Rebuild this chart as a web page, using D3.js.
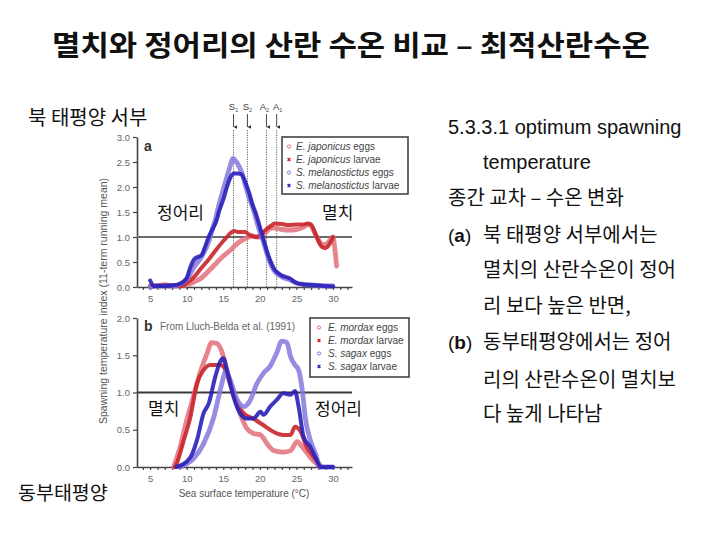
<!DOCTYPE html>
<html>
<head>
<meta charset="utf-8">
<script src="https://cdn.jsdelivr.net/npm/d3@7"></script>
<style>
  body { margin: 0; background: #fff; }
  svg { display: block; }
</style>
</head>
<body>
<div id="content"></div>
<script>
// Panel a: NW Pacific (E. japonicus / S. melanostictus), [temperature, index]
const aAnchovyEggs = [[5,0.01],[6,0.02],[7,0.03],[8,0.02],[9,0.02],[10,0.04],[11,0.1],[12,0.18],[13,0.32],[14,0.47],[15,0.62],[16,0.74],[17,0.88],[18,0.97],[18.5,1.0],[19,1.02],[19.5,1.0],[20,1.0],[20.5,1.05],[21,1.12],[21.5,1.18],[22,1.18],[23,1.15],[24,1.14],[25,1.15],[26,1.2],[26.5,1.25],[27,1.22],[27.5,1.08],[28,0.95],[28.5,0.85],[29,0.85],[29.5,0.92],[30,1.0],[30.3,0.7],[30.5,0.42]];
const aAnchovyLarvae = [[5,0.02],[6,0.03],[7,0.05],[8,0.03],[9,0.02],[9.5,0.03],[10,0.08],[11,0.2],[12,0.38],[13,0.55],[14,0.74],[15,0.92],[15.5,1.0],[16,1.08],[16.5,1.12],[17,1.1],[17.5,1.1],[18,1.1],[18.5,1.05],[19,1.02],[19.5,1.0],[20,1.03],[20.5,1.1],[21,1.17],[21.5,1.22],[22,1.27],[23,1.26],[24,1.24],[25,1.25],[26,1.25],[26.5,1.27],[27,1.25],[27.5,1.1],[28,0.92],[28.5,0.8],[29,0.78],[29.5,0.85],[30,1.0]];
const aSardineEggs = [[5,0.0],[6,0.02],[7,0.02],[8,0.02],[9,0.05],[10,0.15],[11,0.4],[12,0.6],[13,0.9],[13.5,1.15],[14,1.4],[14.5,1.7],[15,1.95],[15.5,2.2],[16,2.45],[16.3,2.57],[16.8,2.5],[17.5,2.3],[18,2.05],[18.5,1.8],[19,1.6],[19.5,1.35],[20,1.1],[20.5,0.9],[21,0.65],[21.5,0.45],[22,0.32],[22.5,0.25],[23,0.2],[24,0.15],[25,0.08],[26,0.05],[27,0.04],[28,0.03],[29,0.02],[30,0.02]];
const aSardineLarvae = [[5,0.13],[5.5,0.02],[6,0.02],[7,0.02],[8,0.03],[9,0.06],[10,0.18],[10.5,0.4],[11,0.55],[11.5,0.6],[12,0.63],[12.5,0.8],[13,1.0],[13.5,1.15],[14,1.3],[14.5,1.55],[15,1.75],[15.5,2.0],[16,2.2],[16.5,2.27],[17,2.27],[17.5,2.25],[18,2.1],[18.5,1.9],[19,1.65],[19.5,1.45],[20,1.2],[20.5,0.95],[21,0.7],[21.5,0.5],[22,0.35],[22.5,0.28],[23,0.23],[24,0.18],[25,0.08],[26,0.05],[27,0.04],[28,0.03],[29,0.02],[30,0.01]];

// Panel b: California Current (E. mordax / S. sagax)
const bAnchovyEggs = [[8.2,0],[9.1,0.27],[10,0.63],[10.9,0.94],[11.8,1.26],[12.8,1.53],[13.4,1.67],[14.1,1.66],[14.8,1.55],[15.5,1.3],[16.4,1.01],[17.3,0.72],[18.2,0.52],[19.1,0.45],[20.1,0.43],[21,0.31],[21.9,0.22],[23.2,0.2],[24.2,0.22],[25.1,0.34],[25.8,0.27],[26.9,0.13],[27.8,0.04],[28.3,0]];
const bAnchovyLarvae = [[8.4,0],[8.6,0.04],[9.6,0.36],[10.5,0.67],[11.4,1.12],[12.3,1.3],[13.2,1.37],[14.6,1.37],[15.3,1.3],[15.9,1.12],[16.9,0.85],[17.8,0.72],[19.1,0.65],[20.5,0.56],[21.9,0.47],[23.2,0.43],[24.2,0.43],[24.8,0.54],[25.5,0.49],[26.4,0.27],[27.4,0.13],[28.3,0.02]];
const bSardineEggs = [[9.1,0],[10.9,0.11],[12.3,0.31],[13.7,0.67],[14.8,1.12],[15.3,1.28],[15.9,1.17],[16.9,0.9],[17.8,0.81],[18.7,0.9],[19.6,1.12],[20.5,1.26],[21.4,1.35],[22.3,1.53],[23,1.69],[23.7,1.67],[24.2,1.48],[24.8,1.37],[25.3,1.3],[25.8,1.03],[26.2,0.67],[26.9,0.36],[27.6,0.18],[28.3,0],[30,0]];
const bSardineLarvae = [[8.6,0],[10.5,0.13],[11.4,0.36],[12.3,0.72],[13,0.85],[13.9,1.21],[14.6,1.42],[15,1.46],[15.5,1.3],[16.4,0.94],[17.3,0.72],[18.2,0.65],[19.1,0.65],[20.1,0.74],[20.5,0.7],[21.4,0.81],[22.3,0.9],[23.2,0.99],[24.2,0.97],[24.8,1.02],[25.3,0.81],[26,0.4],[26.9,0.27],[27.6,0.13],[28.3,0],[30,0]];

const xTickLabels = [5, 10, 15, 20, 25, 30];
const yTicksA = [0, 0.5, 1.0, 1.5, 2.0, 2.5, 3.0];
const yTicksB = [0, 0.5, 1.0, 1.5, 2.0];
const markerTemps = [16.4, 18.3, 20.9, 22.3];
const markerNames = [["S","1"], ["S","2"], ["A","2"], ["A","1"]];
const legendA = [["E. japonicus", " eggs"], ["E. japonicus", " larvae"], ["S. melanostictus", " eggs"], ["S. melanostictus", " larvae"]];
const legendB = [["E. mordax", " eggs"], ["E. mordax", " larvae"], ["S. sagax", " eggs"], ["S. sagax", " larvae"]];

const sideText = [
  {x: 448, y: 134, t: "5.3.3.1 optimum spawning", f: "Arial"},
  {x: 483, y: 169, t: "temperature", f: "Arial"},
  {x: 448, y: 205, t: "종간 교차 – 수온 변화"},
  {x: 448, y: 242, t: "북 태평양 서부에서는", tag: "a"},
  {x: 483, y: 277, t: "멸치의 산란수온이 정어"},
  {x: 483, y: 313, t: "리 보다 높은 반면,"},
  {x: 448, y: 349, t: "동부태평양에서는 정어", tag: "b"},
  {x: 483, y: 387, t: "리의 산란수온이 멸치보"},
  {x: 483, y: 421, t: "다 높게 나타남"}
];

const kr = "'Noto Sans CJK KR', 'Noto Sans', sans-serif";
const sans = "'Liberation Sans', Arial, sans-serif";

const svg = d3.select("#content").append("svg")
  .attr("width", 720).attr("height", 540);

svg.append("defs").append("marker")
  .attr("id", "arr").attr("viewBox", "0 0 6 6")
  .attr("refX", 3).attr("refY", 6)
  .attr("markerWidth", 4).attr("markerHeight", 4)
  .attr("orient", "auto-start-reverse")
  .append("path").attr("d", "M0,0 L3,6 L6,0 Z").attr("fill", "#333");

// title
svg.append("text")
  .attr("x", 52).attr("y", 56)
  .attr("textLength", 598).attr("lengthAdjust", "spacingAndGlyphs")
  .attr("font-family", kr).attr("font-weight", 700)
  .attr("font-size", 28).attr("fill", "#111")
  .text("멸치와 정어리의 산란 수온 비교 – 최적산란수온");

let x = d3.scaleLinear().domain([3.2, 32.6]).range([137, 352]);
let yA = d3.scaleLinear().domain([0, 3]).range([287, 137]);
let yB = d3.scaleLinear().domain([0, 2]).range([467, 318]);

const red = "#c8252b", redLight = "#e2707a";
const blue = "#2a20b8", blueLight = "#8478dc";

function axes(y, ticks, y0, refColor) {
  let gy = svg.append("g")
    .attr("transform", "translate(137,0)")
    .call(d3.axisLeft(y).tickValues(ticks).tickFormat(d3.format(".1f")).tickSize(4).tickSizeOuter(0));
  let gx = svg.append("g")
    .attr("transform", "translate(0," + y0 + ")")
    .call(d3.axisBottom(x).tickValues(d3.range(4, 33)).tickSize(3).tickSizeOuter(0)
      .tickFormat(d => xTickLabels.includes(d) ? d : ""));
  [gy, gx].forEach(g => {
    g.select(".domain").attr("stroke", "#444").attr("stroke-width", 1.6);
    g.selectAll(".tick line").attr("stroke", "#444").attr("stroke-width", 1.2);
    g.selectAll("text").attr("fill", "#666").attr("font-size", 9.5).attr("font-family", sans);
  });
  gx.selectAll(".tick text").attr("dy", "0.9em");
  // reference line at 1.0
  svg.append("line")
    .attr("x1", 137).attr("x2", 352)
    .attr("y1", y(1)).attr("y2", y(1))
    .attr("stroke", refColor).attr("stroke-width", 2.2);
}

function curves(y, series) {
  let line = d3.line().x(d => x(d[0])).y(d => y(d[1])).curve(d3.curveMonotoneX);
  series.forEach(s => {
    svg.append("path").datum(s.data)
      .attr("d", line)
      .attr("fill", "none")
      .attr("stroke", s.color).attr("stroke-width", s.w)
      .attr("stroke-opacity", s.op)
      .attr("stroke-linejoin", "round").attr("stroke-linecap", "round");
  });
}

function legend(x0, y0, w, h, rows, colors, rowY, mx, tx) {
  svg.append("rect").attr("x", x0).attr("y", y0).attr("width", w).attr("height", h)
    .attr("fill", "#fff").attr("stroke", "#444").attr("stroke-width", 1.6);
  rows.forEach((r, i) => {
    let yy = rowY[i];
    if (i % 2 === 0) {
      svg.append("circle").attr("cx", x0 + mx).attr("cy", yy - 3.5).attr("r", 1.6)
        .attr("fill", "none").attr("stroke", colors[i]).attr("stroke-width", 1);
    } else {
      svg.append("path").attr("d", d3.symbol(d3.symbolCross, 9)())
        .attr("transform", "translate(" + (x0 + mx) + "," + (yy - 3.5) + ") rotate(45)")
        .attr("fill", colors[i]);
    }
    let t = svg.append("text").attr("x", x0 + tx).attr("y", yy)
      .attr("font-family", sans).attr("font-size", 10).attr("fill", "#444");
    t.append("tspan").attr("font-style", "italic").text(r[0]);
    t.append("tspan").text(r[1]);
  });
}

// ---- panel a
axes(yA, yTicksA, 287, "#6a6a6a");

// spawning marks
markerTemps.forEach((t, i) => {
  svg.append("line").attr("x1", x(t)).attr("x2", x(t)).attr("y1", 130).attr("y2", 287)
    .attr("stroke", "#555").attr("stroke-width", 0.9).attr("stroke-dasharray", "1.2,1.2");
  svg.append("line").attr("x1", x(t)).attr("x2", x(t)).attr("y1", 114).attr("y2", 127)
    .attr("stroke", "#333").attr("stroke-width", 0.9).attr("marker-end", "url(#arr)");
  let lx = x(t) + (i === 2 ? -2 : (i === 3 ? 1 : 0));
  let lab = svg.append("text").attr("x", lx).attr("y", 110)
    .attr("text-anchor", "middle").attr("font-family", sans)
    .attr("font-size", 9.5).attr("fill", "#444");
  lab.append("tspan").text(markerNames[i][0]);
  lab.append("tspan").attr("font-size", 5.5).attr("dy", 2).text(markerNames[i][1]);
});

curves(yA, [
  {data: aAnchovyEggs, color: redLight, w: 4.8, op: 0.85},
  {data: aAnchovyLarvae, color: red, w: 4, op: 0.9},
  {data: aSardineEggs, color: blueLight, w: 4.8, op: 0.85},
  {data: aSardineLarvae, color: blue, w: 4, op: 0.9}
]);

svg.append("text").attr("x", 144).attr("y", 151)
  .attr("font-family", sans).attr("font-weight", 700).attr("font-size", 14).attr("fill", "#333").text("a");

legend(282, 137, 126, 57, legendA, [redLight, red, blueLight, blue], [150, 163, 176, 189], 7, 14);

// ---- panel b
axes(yB, yTicksB, 467, "#3a3a3a");

curves(yB, [
  {data: bAnchovyEggs, color: redLight, w: 4.8, op: 0.85},
  {data: bAnchovyLarvae, color: red, w: 4, op: 0.9},
  {data: bSardineEggs, color: blueLight, w: 4.8, op: 0.85},
  {data: bSardineLarvae, color: blue, w: 4, op: 0.9}
]);

svg.append("text").attr("x", 144).attr("y", 331)
  .attr("font-family", sans).attr("font-weight", 700).attr("font-size", 14).attr("fill", "#333").text("b");
svg.append("text").attr("x", 160).attr("y", 330)
  .attr("font-family", sans).attr("font-size", 10).attr("fill", "#666").text("From Lluch-Belda et al. (1991)");

legend(310, 318, 99, 59, legendB, [redLight, red, blueLight, blue], [331, 344, 357, 370], 9, 18);

// axis titles
svg.append("text")
  .attr("transform", "translate(107,301) rotate(-90)")
  .attr("text-anchor", "middle").attr("font-family", sans)
  .attr("font-size", 10.5).attr("fill", "#555")
  .text("Spawning temperature index (11-term running mean)");
svg.append("text")
  .attr("x", 244).attr("y", 497).attr("text-anchor", "middle")
  .attr("font-family", sans).attr("font-size", 10).attr("fill", "#555")
  .text("Sea surface temperature (°C)");

// Korean annotations
const notes = [
  {x: 28, y: 125, t: "북 태평양 서부", s: 20},
  {x: 157, y: 219, t: "정어리", s: 17},
  {x: 322, y: 219, t: "멸치", s: 17},
  {x: 148, y: 415, t: "멸치", s: 17},
  {x: 315, y: 415, t: "정어리", s: 17},
  {x: 18, y: 500, t: "동부태평양", s: 19.5}
];
notes.forEach(n => {
  svg.append("text").attr("x", n.x).attr("y", n.y)
    .attr("font-family", kr).attr("font-size", n.s).attr("fill", "#111").text(n.t);
});

sideText.forEach(d => {
  let xx = d.x;
  if (d.tag) {
    let p = svg.append("text").attr("x", d.x).attr("y", d.y)
      .attr("font-family", sans).attr("font-size", 19).attr("fill", "#111");
    p.append("tspan").text("(");
    p.append("tspan").attr("font-weight", 700).text(d.tag);
    p.append("tspan").text(")");
    xx = 483;
  }
  svg.append("text").attr("x", xx).attr("y", d.y)
    .attr("font-family", d.f ? sans : kr)
    .attr("font-size", 20).attr("fill", "#111").text(d.t);
});
</script>
</body>
</html>
